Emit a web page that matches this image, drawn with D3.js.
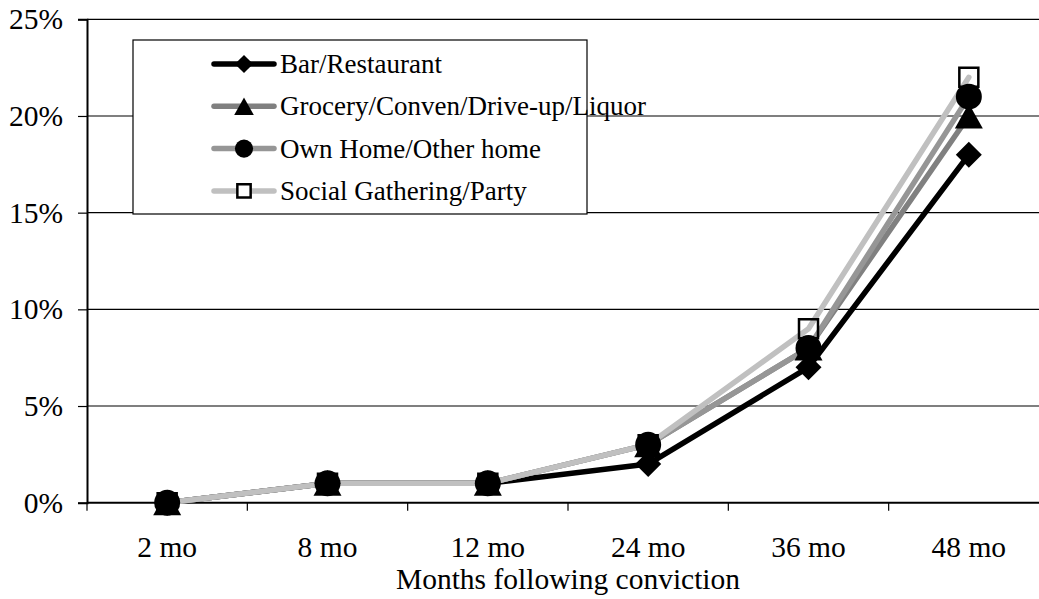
<!DOCTYPE html>
<html>
<head>
<meta charset="utf-8">
<script src="https://cdn.jsdelivr.net/npm/d3@7"></script>
<style>
  body { margin: 0; background: #fff; }
  svg { display: block; }
  text { font-family: 'Liberation Serif', 'Times New Roman', Times, serif; }
</style>
</head>
<body>
<svg id="chart" width="1039" height="599"></svg>
<script>
// data
var months = ["2 mo", "8 mo", "12 mo", "24 mo", "36 mo", "48 mo"]
var barRestaurant = [0, 1, 1, 2, 7, 18]
var grocery = [0, 1, 1, 3, 8, 20]
var ownHome = [0, 1, 1, 3, 8, 21]
var socialParty = [0, 1, 1, 3, 9, 22]
var yTicks = [0, 5, 10, 15, 20, 25]

var series = [
  {name: "Bar/Restaurant", values: barRestaurant, color: "#000000", shape: "diamond"},
  {name: "Grocery/Conven/Drive-up/Liquor", values: grocery, color: "#808080", shape: "triangle"},
  {name: "Own Home/Other home", values: ownHome, color: "#969696", shape: "circle"},
  {name: "Social Gathering/Party", values: socialParty, color: "#c0c0c0", shape: "square"}
]

var FONT = "'Liberation Serif', 'Times New Roman', serif"
var svg = d3.select("#chart").attr("font-family", FONT)

// plot runs off the right edge of the picture, like the original
var x = d3.scaleBand().domain(months).range([87, 1049]).padding(0)
var y = d3.scaleLinear().domain([0, 25]).range([502.7, 19.3])

function cx(i) { return x(months[i]) + x.bandwidth() / 2 }

function markerPath(shape, k) {
  var p = d3.path()
  if (shape == "diamond") {
    var r = 13 * k
    p.moveTo(0, -r); p.lineTo(r, 0); p.lineTo(0, r); p.lineTo(-r, 0); p.closePath()
  } else if (shape == "triangle") {
    var w = 14 * k, h = 12.5 * k
    p.moveTo(0, -h); p.lineTo(w, h); p.lineTo(-w, h); p.closePath()
  } else if (shape == "circle") {
    p.arc(0, 0, 13 * k, 0, Math.PI * 2)
  } else {
    var s = 9.5 * k
    p.rect(-s, -s, s * 2, s * 2)
  }
  return p.toString()
}

// gridlines
svg.append("g")
  .selectAll("line")
  .data(yTicks.filter(function(d) { return d > 0 }))
  .enter().append("line")
    .attr("x1", 87).attr("x2", 1049)
    .attr("y1", function(d) { return y(d) }).attr("y2", function(d) { return y(d) })
    .attr("stroke", "#000").attr("stroke-width", 1.2)

// y axis
var yAxis = svg.append("g")
  .attr("transform", "translate(87,0)")
  .call(d3.axisLeft(y).tickValues(yTicks).tickSize(9).tickPadding(15)
    .tickFormat(function(d) { return d + "%" }))
yAxis.attr("font-family", FONT).attr("font-size", 29.5)
yAxis.select(".domain").attr("stroke", "#000").attr("stroke-width", 2)
yAxis.selectAll(".tick line").attr("stroke", "#000").attr("stroke-width", 1.2)
yAxis.selectAll("text").attr("fill", "#000")

// x axis with ticks between categories
var xAxis = svg.append("g").attr("transform", "translate(0," + y(0) + ")")
xAxis.append("line").attr("x1", 87).attr("x2", 1049)
  .attr("stroke", "#000").attr("stroke-width", 2)
xAxis.selectAll(".sep")
  .data(months)
  .enter().append("line")
    .attr("class", "sep")
    .attr("x1", function(d) { return x(d) }).attr("x2", function(d) { return x(d) })
    .attr("y1", 0).attr("y2", 8)
    .attr("stroke", "#000").attr("stroke-width", 1.2)
xAxis.selectAll("text")
  .data(months)
  .enter().append("text")
    .attr("x", function(d, i) { return cx(i) })
    .attr("y", 54.5)
    .attr("text-anchor", "middle")
    .attr("font-size", 29.5)
    .text(function(d) { return d })

svg.append("text")
  .attr("x", 568).attr("y", 589)
  .attr("text-anchor", "middle")
  .attr("font-size", 29.5)
  .text("Months following conviction")

// lines first, in series order
var line = d3.line()
  .x(function(d, i) { return cx(i) })
  .y(function(d) { return y(d) })

svg.append("g").selectAll("path")
  .data(series)
  .enter().append("path")
    .attr("d", function(s) { return line(s.values) })
    .attr("fill", "none")
    .attr("stroke", function(s) { return s.color })
    .attr("stroke-width", 5.5)
    .attr("stroke-linejoin", "round")
    .attr("stroke-linecap", "round")

// markers: squares sit under the filled black ones
var markerOrder = [series[3], series[0], series[1], series[2]]
markerOrder.forEach(function(s) {
  svg.append("g").selectAll("path")
    .data(s.values)
    .enter().append("path")
      .attr("transform", function(d, i) { return "translate(" + cx(i) + "," + y(d) + ")" })
      .attr("d", markerPath(s.shape, 1))
      .attr("fill", s.shape == "square" ? "none" : "#000")
      .attr("stroke", s.shape == "square" ? "#000" : "none")
      .attr("stroke-width", 2.5)
})

// legend
var legend = svg.append("g")
legend.append("rect")
  .attr("x", 133).attr("y", 40).attr("width", 454).attr("height", 174)
  .attr("fill", "#fff").attr("stroke", "#000").attr("stroke-width", 1.2)

var rows = legend.selectAll(".row")
  .data(series)
  .enter().append("g")
    .attr("class", "row")
    .attr("transform", function(d, i) { return "translate(0," + (64 + i * 42.3) + ")" })
rows.append("line")
  .attr("x1", 214).attr("x2", 274).attr("y1", 0).attr("y2", 0)
  .attr("stroke", function(d) { return d.color })
  .attr("stroke-width", 5.5)
  .attr("stroke-linecap", "round")
rows.append("path")
  .attr("transform", "translate(244,0)")
  .attr("d", function(d) { return markerPath(d.shape, 0.7) })
  .attr("fill", function(d) { return d.shape == "square" ? "#fff" : "#000" })
  .attr("stroke", function(d) { return d.shape == "square" ? "#000" : "none" })
  .attr("stroke-width", 2.5)
rows.append("text")
  .attr("x", 280).attr("y", 9)
  .attr("font-size", 27)
  .text(function(d) { return d.name })
</script>
</body>
</html>
